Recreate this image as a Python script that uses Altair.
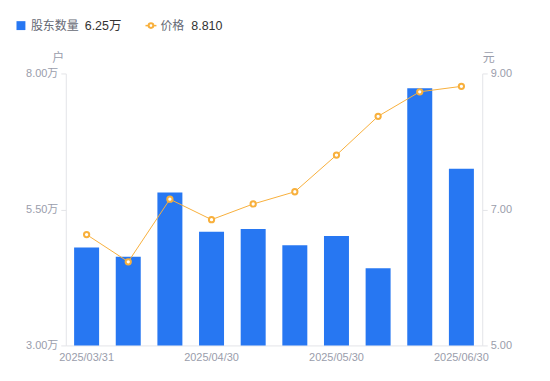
import altair as alt
import pandas as pd

dates = ["2025/03/31", "2025/04/10", "2025/04/20", "2025/04/30", "2025/05/10",
         "2025/05/20", "2025/05/30", "2025/06/10", "2025/06/20", "2025/06/30"]
holders = [4.80, 4.63, 5.81, 5.09, 5.14, 4.84, 5.01, 4.42, 7.73, 6.25]  # 万户
prices = [6.63, 6.23, 7.15, 6.85, 7.08, 7.26, 7.80, 8.37, 8.73, 8.810]  # 元
shown_dates = ["2025/03/31", "2025/04/30", "2025/05/30", "2025/06/30"]

df = pd.DataFrame({"date": dates, "holders": holders, "price": prices})

FONT = "Liberation Sans, 'Noto Sans CJK SC'"
GRAY = "#9a9dab"
AXIS_LINE = "#e3e4e8"
BLUE = "#2777f2"
ORANGE = "#f8b03c"

x = alt.X("date:N", sort=None, title=None,
          scale=alt.Scale(paddingInner=0.4, paddingOuter=0.2),
          axis=alt.Axis(values=shown_dates, labelAngle=0, ticks=False, domainColor=AXIS_LINE,
                        labelColor=GRAY, labelFontSize=11, labelFont=FONT, labelPadding=6,
                        grid=False))

bars = alt.Chart(df).mark_bar(color=BLUE, clip=True).encode(
    x=x,
    y=alt.Y("holders:Q", scale=alt.Scale(domain=[3, 8], nice=False, zero=False),
            axis=alt.Axis(values=[3, 5.5, 8], labelExpr="format(datum.value, '.2f') + '万'",
                          title="户", titleAngle=0, titleX=-8, titleY=-16, titleAlign="center",
                          titleBaseline="middle", titleColor=GRAY, titleFontSize=12,
                          titleFontWeight="normal", titleFont=FONT,
                          labelColor=GRAY, labelFontSize=11, labelFont=FONT, labelPadding=3,
                          tickSize=5, tickColor=AXIS_LINE, domainColor=AXIS_LINE, grid=False)),
)

yr = alt.Y("price:Q", scale=alt.Scale(domain=[5, 9], nice=False, zero=False),
           axis=alt.Axis(orient="right", values=[5, 7, 9], format=".2f",
                         title="元", titleAngle=0, titleX=6, titleY=-16, titleAlign="center",
                         titleBaseline="middle", titleColor=GRAY, titleFontSize=12,
                         titleFontWeight="normal", titleFont=FONT,
                         labelColor=GRAY, labelFontSize=11, labelFont=FONT, labelPadding=3,
                         tickSize=5, tickColor=AXIS_LINE, domainColor=AXIS_LINE, grid=False))

line = alt.Chart(df).mark_line(color=ORANGE, strokeWidth=1).encode(x=x, y=yr)
pts = alt.Chart(df).mark_point(shape="circle", filled=True, fill="white", stroke=ORANGE,
                               strokeWidth=2, size=28, opacity=1).encode(x=x, y=yr)

right = alt.layer(line, pts)

# legend (decoration)
leg = pd.DataFrame({"a": [0]})
LY = -48
sq = alt.Chart(leg).mark_square(color=BLUE, size=80, opacity=1).encode(
    x=alt.value(-45), y=alt.value(LY))
t1 = alt.Chart(leg).mark_text(text="股东数量", align="left", baseline="middle", fontSize=12,
                              font=FONT, color="#666a75").encode(x=alt.value(-35), y=alt.value(LY))
t2 = alt.Chart(leg).mark_text(text=f"{holders[-1]:.2f}万", align="left", baseline="middle",
                              fontSize=12.5, font=FONT, color="#333333").encode(
    x=alt.value(19), y=alt.value(LY))
lg_line = alt.Chart(leg).mark_rule(color=ORANGE, strokeWidth=1.5).encode(
    x=alt.value(80), x2=alt.value(91), y=alt.value(LY))
lg_pt = alt.Chart(leg).mark_point(shape="circle", filled=True, fill="white", stroke=ORANGE,
                                  strokeWidth=2, size=22, opacity=1).encode(
    x=alt.value(85.5), y=alt.value(LY))
t3 = alt.Chart(leg).mark_text(text="价格", align="left", baseline="middle", fontSize=12,
                              font=FONT, color="#666a75").encode(x=alt.value(95), y=alt.value(LY))
t4 = alt.Chart(leg).mark_text(text=f"{prices[-1]:.3f}", align="left", baseline="middle",
                              fontSize=12.5, font=FONT, color="#333333").encode(
    x=alt.value(126), y=alt.value(LY))

chart = alt.layer(bars, right, sq, t1, t2, lg_line, lg_pt, t3, t4).resolve_scale(
    y="independent").properties(
    width=418, height=273,
    autosize=alt.AutoSizeParams(type="none"),
    padding={"left": 58, "top": 65, "right": 60, "bottom": 28},
).configure_view(stroke=None)

chart.save("out.html", embed_options={"renderer": "svg", "actions": False})
